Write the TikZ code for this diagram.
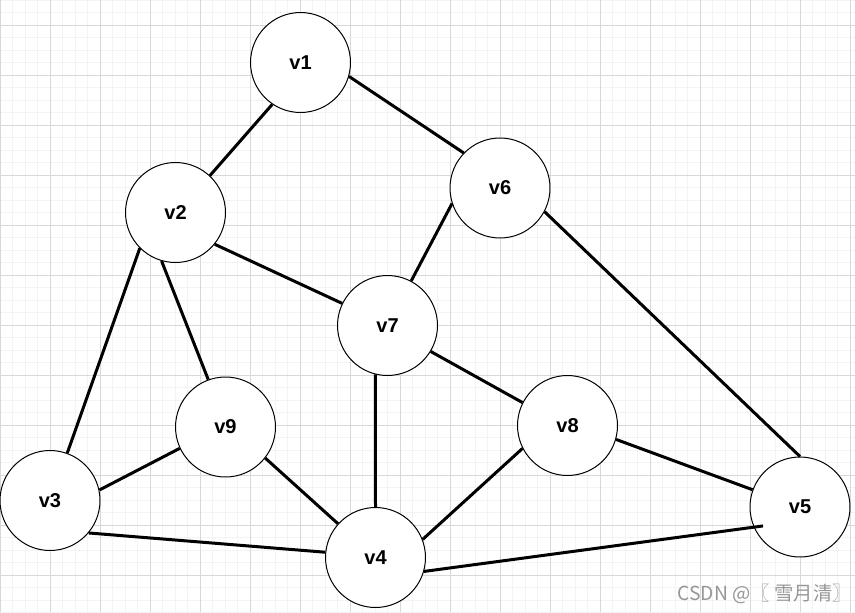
\documentclass[tikz,border=0pt]{standalone}
\usepackage{fontspec}
\setmainfont{Liberation Sans}
\newfontfamily\cjk{Noto Sans CJK SC}
\usepackage{tikz}
\definecolor{gridminor}{RGB}{243,243,243}
\definecolor{gridmajor}{RGB}{216,216,216}
\definecolor{markgray}{RGB}{150,150,150}
\tikzset{
    vertex/.style={circle, draw, fill=white, line width=0.02cm, minimum size=2cm, inner sep=0pt, font=\bfseries\fontsize{11.4}{13}\selectfont},
    edge_line/.style={line width=0.06cm},
    grid_minor/.style={gridminor, line width=0.02cm},
    grid_major/.style={gridmajor, line width=0.02cm}
}
\begin{document}
\begin{tikzpicture}[x=0.02cm, y=-0.02cm]
            \useasboundingbox (0,0) rectangle (855,612);
            % background grid
            \foreach \i in {0,...,68} \draw[grid_minor] (\i*12.5,0) -- (\i*12.5,612);
            \foreach \j in {0,...,49} \draw[grid_minor] (0,\j*12.5) -- (855,\j*12.5);
            \foreach \i in {0,...,17} \draw[grid_major] (\i*50,0) -- (\i*50,612);
            \foreach \j in {0,...,11} \draw[grid_major] (0,25+\j*50) -- (855,25+\j*50);

            \node (v1) [vertex] at (300.5,62.5) {v1};
            \node (v2) [vertex] at (175.5,212.5) {v2};
            \node (v6) [vertex] at (500,188) {v6};
            \node (v7) [vertex] at (387.5,325.5) {v7};
            \node (v9) [vertex] at (225.5,427) {v9};
            \node (v8) [vertex] at (567.5,425.5) {v8};
            \node (v3) [vertex] at (50,500.5) {v3};
            \node (v4) [vertex] at (375.5,557.5) {v4};
            \node (v5) [vertex] at (800,507) {v5};

            \draw [edge_line] (v1.-124) -- (v2.47);
            \draw [edge_line] (v1.-16) -- (v6.136);
            \draw [edge_line] (v2.-39) -- (v7.154);
            \draw [edge_line] (v2.-106) -- (v9.110);
            \draw [edge_line] (v2.-135) -- (v3.70);
            \draw [edge_line] (v6.-162) -- (v7.62);
            \draw [edge_line] (v6.-28) -- (v5.90);
            \draw [edge_line] (v7.-104) -- (v4.90);
            \draw [edge_line] (v7.-31) -- (v8.153);
            \draw [edge_line] (v9.-155) -- (v3.12);
            \draw [edge_line] (v9.-38) -- (v4.138);
            \draw [edge_line] (v3.-40) -- (v4.174);
            \draw [edge_line] (v8.-153) -- (v4.21);
            \draw [edge_line] (v8.-16) -- (v5.160);
            \draw [edge_line] (v4.-16) -- ([shift={(8,-4)}]v5.-153);

            \node (watermark) [anchor=base east, markgray, font=\cjk\fontsize{11}{13}\selectfont, inner sep=0pt] at (852,600) {CSDN @〖 雪月清〗};
		\end{tikzpicture}
\end{document}
